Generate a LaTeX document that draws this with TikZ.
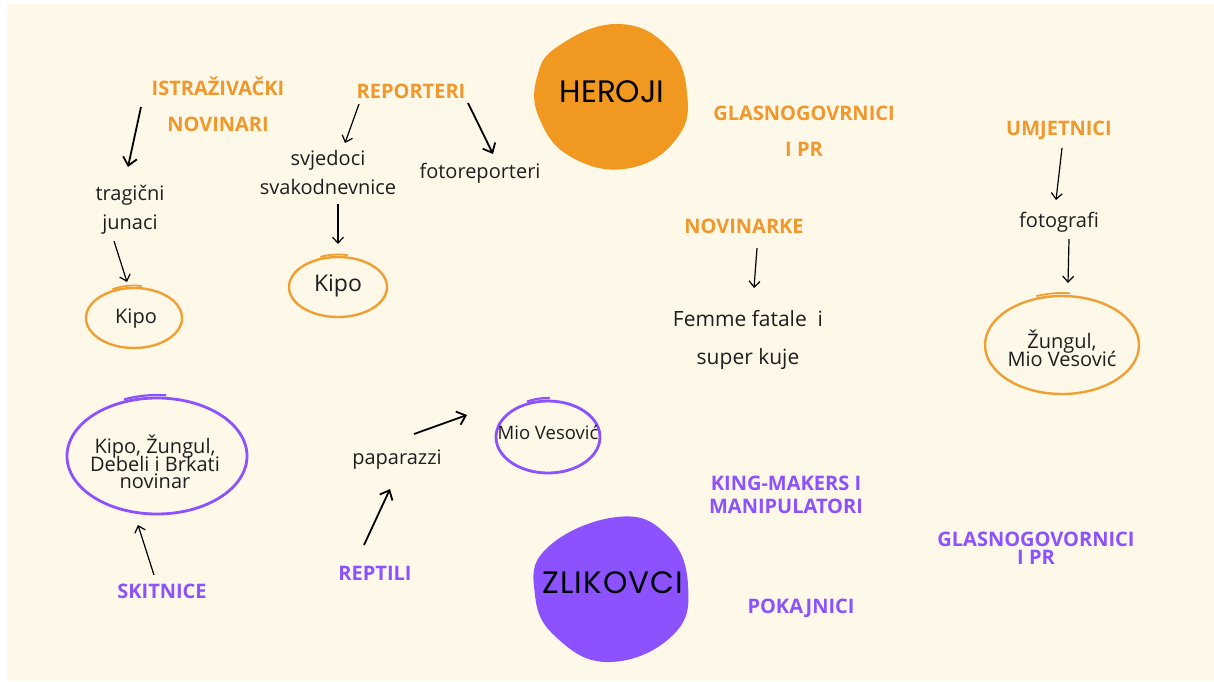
\documentclass[tikz,border=0pt]{standalone}
\usepackage{fontspec}
\setmainfont{Open Sans}
\newfontfamily\blobfont{Poppins}
\newfontfamily\blobfontwide{Poppins}[LetterSpace=3.5]
\usetikzlibrary{arrows.meta}
\definecolor{cream}{HTML}{FEF8E9}
\definecolor{ora}{HTML}{F0982C}
\definecolor{blobora}{HTML}{F0981F}
\definecolor{circora}{HTML}{F0A033}
\definecolor{pur}{HTML}{8C52FF}
\definecolor{ink}{HTML}{1E1E1E}
\begin{document}
\begin{tikzpicture}[x=1pt,y=-1pt,
  olab/.style={text=ora, font={\fontsize{20}{#1}\selectfont\bfseries}, align=center, inner sep=0pt},
  olab/.default=24,
  plab/.style={text=pur, font={\fontsize{20}{#1}\selectfont\bfseries\lineskiplimit -30pt\relax}, align=center, inner sep=0pt},
  plab/.default=24,
  txt/.style={text=ink, font={\fontsize{20}{#1}\selectfont}, align=center, inner sep=0pt},
  txt/.default=24,
  tight/.style={text=ink, font={\fontsize{20}{#1}\selectfont\lineskiplimit -30pt\relax}, align=center, inner sep=0pt},
  blobtxt/.style={text=black, inner sep=0pt},
  ocirc/.style={draw=circora, line width=2.4pt},
  pcirc/.style={draw=pur, line width=2.8pt},
  thin arrow/.style={draw=black, line width=1.2pt, -{Straight Barb[length=6pt,width=11pt]}},
  thick arrow/.style={draw=black, line width=1.8pt, -{Straight Barb[length=8pt,width=14pt]}},
]
% background
\useasboundingbox (0,0) rectangle (1214,681);
\fill[white] (0,0) rectangle (1214,681);
\fill[cream] (7,4) rectangle (1214,681);

% blobs
\fill[blobora] plot[smooth cycle, tension=0.75] coordinates {(560,45) (618,24) (668,47) (687,93) (677,138) (630,168) (573,158) (540,120) (537,77)};
\fill[pur] plot[smooth cycle, tension=0.75] coordinates {(617,517) (667,535) (688,585) (673,635) (610,662) (557,638) (535,595) (547,548)};
\node[blobtxt, font=\blobfont\fontsize{31}{32}\selectfont] (heroji) at (612,92) {HEROJI};
\node[blobtxt, font=\blobfontwide\fontsize{31}{32}\selectfont] (zlikovci) at (613,583) {ZLIKOVCI};

% ---- heroes side ----
\node[olab=36] (istr) at (218,104) {ISTRAŽIVAČKI\\NOVINARI};
\node[olab] (rep) at (411,91) {REPORTERI};
\node[txt=29] (trag) at (130,210) {tragični\\junaci};
\node[txt=29] (svjed) at (328,172) {svjedoci\\svakodnevnice};
\node[txt] (foto) at (480,173) {fotoreporteri};

\coordinate (k1c) at (134,318);
\draw[ocirc] (k1c) ellipse [x radius=48pt, y radius=30pt];
\draw[ocirc, line width=1.8pt] (k1c) ++(118:46pt and 32.5pt) arc[start angle=118, end angle=80, x radius=46pt, y radius=32.5pt];
\node[txt, font=\fontsize{20}{24}\selectfont] (kipo1) at (136,319) {Kipo};

\coordinate (k2c) at (338,287);
\draw[ocirc] (k2c) ellipse [x radius=49pt, y radius=30pt];
\draw[ocirc, line width=1.8pt] (k2c) ++(112:47pt and 32.5pt) arc[start angle=112, end angle=78, x radius=47pt, y radius=32.5pt];
\node[txt, font=\fontsize{23}{26}\selectfont] (kipo2) at (338,286) {Kipo};

\node[olab=36] (glas1) at (804,131) {GLASNOGOVRNICI\\I PR};
\node[olab] (novk) at (744,226) {NOVINARKE};
\node[txt=38, font=\fontsize{21}{38}\selectfont] (femme) at (748,340) {Femme fatale\ \ i\\super kuje};
\node[olab] (umj) at (1059,130) {UMJETNICI};
\node[txt] (fotog) at (1059,222) {fotografi};

\coordinate (zc) at (1062,345);
\draw[ocirc] (zc) ellipse [x radius=77pt, y radius=49pt];
\draw[ocirc, line width=1.8pt] (zc) ++(110:75pt and 52pt) arc[start angle=110, end angle=84, x radius=75pt, y radius=52pt];
\node[tight=18] (zung) at (1062,348) {Žungul,\\Mio Vesović};

% ---- villains side ----
\coordinate (lc) at (157,456);
\draw[pcirc] (lc) ellipse [x radius=90pt, y radius=58pt];
\draw[pcirc, line width=2.2pt] (lc) ++(112:88pt and 61pt) arc[start angle=112, end angle=84, x radius=88pt, y radius=61pt];
\node[tight=17.5] (kipoz) at (155,462) {Kipo, Žungul,\\Debeli i Brkati\\novinar};
\node[plab] (skit) at (162,591) {SKITNICE};

\node[txt] (papa) at (397,460) {paparazzi};
\coordinate (mc) at (548,437);
\draw[pcirc] (mc) ellipse [x radius=52pt, y radius=36pt];
\draw[pcirc, line width=2.2pt] (mc) ++(115:50pt and 39pt) arc[start angle=115, end angle=88, x radius=50pt, y radius=39pt];
\node[txt, font=\fontsize{18.5}{22}\selectfont] (mio) at (548,432) {Mio Vesović};
\node[plab] (rept) at (375,573) {REPTILI};

\node[plab=23] (king) at (786,495) {KING-MAKERS I\\MANIPULATORI};
\node[plab=18] (glas2) at (1036,548) {GLASNOGOVORNICI\\I PR};
\node[plab] (pok) at (801,608) {POKAJNICI};

% ---- arrows ----
\coordinate (a1s) at (141,107); \coordinate (a1e) at (128,167);
\coordinate (a2s) at (114,241); \coordinate (a2e) at (127,282);
\coordinate (a3s) at (359,104); \coordinate (a3e) at (345,143);
\coordinate (a4s) at (468,103); \coordinate (a4e) at (493,154);
\coordinate (a5s) at (338,204); \coordinate (a5e) at (338,244);
\coordinate (a6s) at (757,248); \coordinate (a6e) at (754,288);
\coordinate (a7s) at (1062,148); \coordinate (a7e) at (1056,200);
\coordinate (a8s) at (1069,239); \coordinate (a8e) at (1068,283);
\coordinate (a9s) at (154,575); \coordinate (a9e) at (138,525);
\coordinate (a10s) at (414,434); \coordinate (a10e) at (467,415);
\coordinate (a11s) at (364,545); \coordinate (a11e) at (390,489);

\draw[thick arrow] (a1s) -- (a1e);
\draw[thin arrow] (a2s) -- (a2e);
\draw[thin arrow] (a3s) -- (a3e);
\draw[thick arrow] (a4s) -- (a4e);
\draw[thin arrow] (a5s) -- (a5e);
\draw[thin arrow] (a6s) -- (a6e);
\draw[thin arrow] (a7s) -- (a7e);
\draw[thin arrow] (a8s) -- (a8e);
\draw[thin arrow] (a9s) -- (a9e);
\draw[thick arrow] (a10s) -- (a10e);
\draw[thick arrow] (a11s) -- (a11e);
\end{tikzpicture}
\end{document}
